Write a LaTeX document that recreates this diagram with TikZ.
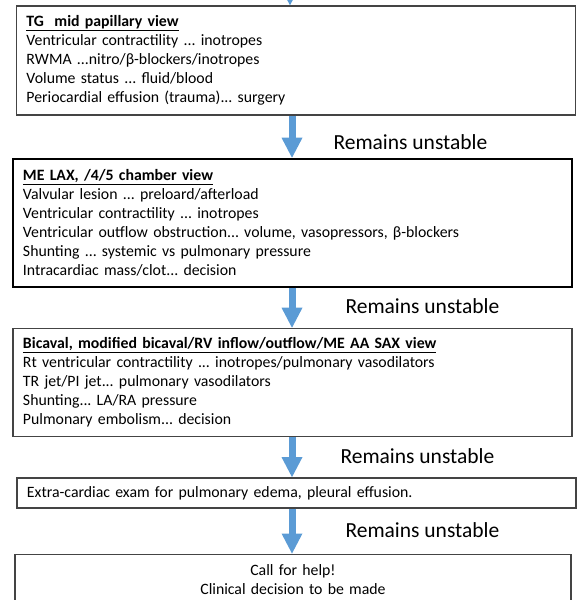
\documentclass[tikz,border=0pt]{standalone}
\usepackage{fontspec}
\setmainfont{Carlito}
\usetikzlibrary{positioning, arrows.meta}
\definecolor{arrowblue}{RGB}{91,155,213}
\definecolor{boxgray}{RGB}{68,68,68}
\tikzstyle{view} = [rectangle, draw=boxgray, line width=1.4pt, minimum width=559pt, text width=539pt, inner xsep=10pt, align=left, font=\fontsize{15.8}{19}\selectfont]
\tikzstyle{arrow} = [draw=arrowblue, line width=7pt, -{Triangle[width=21pt,length=20pt,line width=0pt]}]
\tikzstyle{note} = [anchor=west, inner sep=0pt, font=\fontsize{21.5}{24}\selectfont]

\begin{document}
\frenchspacing
\begin{tikzpicture}[x=1pt, y=-1pt]

\clip (0,0) rectangle (582,600);

\node (tg) [view, minimum height=109pt] at (296,60.5) {\underline{\textbf{TG\ \ mid papillary view}}\\
Ventricular contractility ... inotropes\\
RWMA ...nitro/β-blockers/inotropes\\
Volume status ... fluid/blood\\
Periocardial effusion (trauma)... surgery};
\node (lax) [view, draw=black, line width=2pt, minimum height=128pt, below=42pt of tg, xshift=-3.5pt] {\underline{\textbf{ME LAX, /4/5 chamber view}}\\
Valvular lesion ... preloard/afterload\\
Ventricular contractility ... inotropes\\
Ventricular outflow obstruction... volume, vasopressors, β-blockers\\
Shunting ... systemic vs pulmonary pressure\\
Intracardiac mass/clot... decision};
\node (bicaval) [view, minimum height=108pt, below=40pt of lax] {\underline{\textbf{Bicaval, modified bicaval/RV inflow/outflow/ME AA SAX view}}\\
Rt ventricular contractility ... inotropes/pulmonary vasodilators\\
TR jet/PI jet... pulmonary vasodilators\\
Shunting... LA/RA pressure\\
Pulmonary embolism... decision};
\node (extra) [view, minimum height=30pt, below=40pt of bicaval, xshift=4pt] {Extra-cardiac exam for pulmonary edema, pleural effusion.};
\node (help) [view, align=center, minimum width=556pt, text width=536pt, minimum height=50pt, below=45pt of extra, xshift=-3.5pt] {Call for help!\\Clinical decision to be made};

\coordinate (entry) at (290,-30);
\coordinate (axis) at (292,0);

\draw [arrow] (entry) -- (tg.north -| entry);
\draw [arrow] (tg.south -| axis) -- node[note, pos=0.64, xshift=38pt] {Remains unstable} (lax.north -| axis);
\draw [arrow] (lax.south -| axis) -- node[note, pos=0.45, xshift=50pt] {Remains unstable} (bicaval.north -| axis);
\draw [arrow] (bicaval.south -| axis) -- node[note, pos=0.47, xshift=45pt] {Remains unstable} (extra.north -| axis);
\draw [arrow] (extra.south -| axis) -- node[note, pos=0.49, xshift=50pt] {Remains unstable} (help.north -| axis);

\end{tikzpicture}
\end{document}
